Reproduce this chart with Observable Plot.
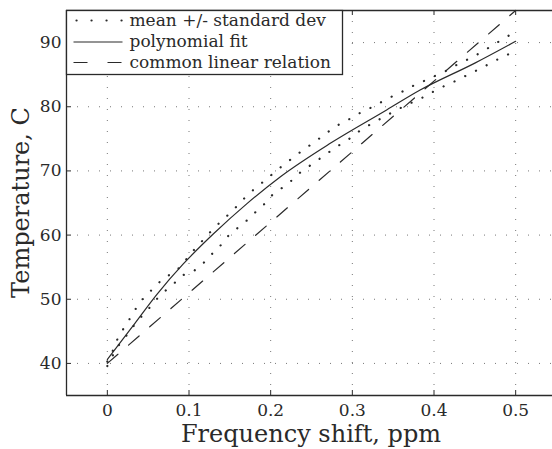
<!DOCTYPE html>
<html><head><meta charset="utf-8">
<script src="https://cdn.jsdelivr.net/npm/d3@7"></script>
<script src="https://cdn.jsdelivr.net/npm/@observablehq/plot@0.6"></script>
<style>
html,body{margin:0;padding:0;background:#fff;overflow:hidden}
#chart{width:552px;height:449px;overflow:hidden;background:#fff}
#chart svg{max-width:none !important}
</style></head><body><div id="chart"></div>
<script>
const xTicks = [0, 0.1, 0.2, 0.3, 0.4, 0.5];
const yTicks = [40, 50, 60, 70, 80, 90];
const xLabel = "Frequency shift, ppm";
const yLabel = "Temperature, C";
const seriesNames = ["mean +/- standard dev", "polynomial fit", "common linear relation"];

const upperX = [0.000, 0.005, 0.0098, 0.0151, 0.0233, 0.0302, 0.0383, 0.0473, 0.0588, 0.0681, 0.0812, 0.0922, 0.1004, 0.1106, 0.1212, 0.1314, 0.1424, 0.1534, 0.1636, 0.1746, 0.1860, 0.1975, 0.2085, 0.2207, 0.2326, 0.2448, 0.2570, 0.2693, 0.2819, 0.2954, 0.3089, 0.3219, 0.3350, 0.3485, 0.3619, 0.3750, 0.3892, 0.4166, 0.4300, 0.4435, 0.4565, 0.4696, 0.4823, 0.5000];
const upperY = [40.3, 41.4, 43.0, 44.6, 46.0, 47.6, 49.2, 50.7, 51.9, 53.3, 54.1, 55.4, 56.9, 58.3, 59.8, 61.2, 62.5, 63.8, 65.2, 66.6, 67.8, 69.0, 70.2, 71.4, 72.6, 73.7, 74.8, 76.0, 77.1, 78.0, 79.0, 79.8, 80.7, 81.6, 82.4, 83.3, 84.1, 85.7, 86.7, 87.5, 88.4, 89.4, 90.4, 91.7];

const lowerX = [0.000, 0.0119, 0.022, 0.030, 0.0396, 0.0486, 0.0588, 0.0689, 0.0804, 0.0914, 0.1049, 0.1167, 0.1269, 0.1375, 0.1465, 0.1575, 0.1693, 0.1799, 0.1913, 0.2016, 0.2134, 0.2256, 0.2366, 0.2489, 0.2611, 0.2733, 0.286, 0.2987, 0.3105, 0.324, 0.337, 0.3497, 0.3635, 0.377, 0.3905, 0.4035, 0.4174, 0.4312, 0.4443, 0.4582, 0.4716, 0.4851, 0.4994];
const lowerY = [39.6, 42.5, 44.1, 45.5, 47.0, 48.2, 49.8, 51.1, 52.3, 53.7, 54.3, 55.5, 56.9, 58.2, 59.7, 60.9, 62.1, 63.4, 64.7, 66.2, 67.3, 68.5, 69.8, 70.9, 72.0, 73.1, 74.2, 75.2, 76.4, 77.4, 78.3, 79.2, 80.1, 80.9, 81.7, 82.7, 83.5, 84.3, 85.2, 86.0, 87.0, 87.8, 88.7];

const fitX = [0, 0.03, 0.061, 0.093, 0.130, 0.171, 0.212, 0.273, 0.342, 0.383, 0.45, 0.5];
const fitY = [40.6, 45.6, 50.8, 55.5, 60.2, 64.9, 69.1, 74.3, 79.5, 82.6, 86.8, 90.2];

const linX = [0, 0.5];
const linY = [40, 95];

const xDomain = [-0.05, 0.55];
const yDomain = [35, 95];

const toPts = (xs, ys) => xs.map((x, i) => ({x, y: ys[i]}));
const upper = toPts(upperX, upperY);
const lower = toPts(lowerX, lowerY);
const fit = toPts(fitX, fitY);
const lin = toPts(linX, linY);

const W = 560, H = 449;
const mL = 66, mR = 4, mT = 10, mB = 54;
const fh = H - mT - mB, fw = W - mL - mR;
const ink = "#2a2a2a";
const font = "'DejaVu Serif', serif";
const tickFont = 17;
const dotStyle = {stroke: ink, strokeWidth: 2.2, strokeLinecap: "round", strokeDasharray: "0.1,11.9"};

const plot = Plot.plot({
  width: W, height: H,
  marginLeft: mL, marginRight: mR, marginTop: mT, marginBottom: mB,
  style: {fontFamily: font, fontSize: tickFont + "px", color: ink, background: "#fff", maxWidth: "none"},
  x: {domain: xDomain},
  y: {domain: yDomain},
  marks: [
    Plot.gridX(xTicks, {stroke: "#777", strokeOpacity: 1, strokeWidth: 1, strokeDasharray: "1,10"}),
    Plot.gridY(yTicks, {stroke: "#777", strokeOpacity: 1, strokeWidth: 1, strokeDasharray: "1,10"}),
    Plot.line(upper, {x: "x", y: "y", ...dotStyle}),
    Plot.line(lower, {x: "x", y: "y", ...dotStyle}),
    Plot.line(fit, {x: "x", y: "y", stroke: ink, strokeWidth: 1.2, curve: "monotone-x"}),
    Plot.line(lin, {x: "x", y: "y", stroke: ink, strokeWidth: 1.2, strokeDasharray: "14,14"}),
    Plot.tickX(xTicks, {x: d => d, stroke: ink, insetTop: fh - 5}),
    Plot.tickX(xTicks, {x: d => d, stroke: ink, insetBottom: fh - 5}),
    Plot.tickY(yTicks, {y: d => d, stroke: ink, insetRight: fw - 5}),
    Plot.axisX(xTicks, {tickSize: 0, tickPadding: 8, tickFormat: d => String(d), label: null, fontSize: tickFont}),
    Plot.axisY(yTicks, {tickSize: 0, tickPadding: 5, label: null, fontSize: tickFont}),
    Plot.ruleY(yDomain, {stroke: ink, strokeWidth: 1.3}),
    Plot.ruleX([xDomain[0]], {stroke: ink, strokeWidth: 1.3})
  ]
});
plot.style.maxWidth = "none";
document.getElementById("chart").appendChild(plot);

const sx = plot.scale("x"), sy = plot.scale("y");
const fx0 = sx.apply(xDomain[0]), fx1 = sx.apply(xDomain[1]), fy0 = sy.apply(yDomain[1]), fy1 = sy.apply(yDomain[0]);
const svg = d3.select(plot);

// axis labels
const lab = svg.append("g").attr("font-family", font).attr("font-size", 24).attr("fill", ink).attr("text-anchor", "middle");
lab.append("text").attr("x", (fx0 + fx1) / 2).attr("y", fy1 + 47).text(xLabel);
lab.append("text").attr("transform", `translate(${fx0 - 37},${(fy0 + fy1) / 2}) rotate(-90)`).text(yLabel);

// legend box in the top-left corner of the frame
const x0 = Math.round(fx0) + 0.5, y0 = Math.round(fy0) + 0.5;
const g = svg.append("g").attr("font-family", font).attr("font-size", 17).attr("fill", ink).attr("text-anchor", "start");
g.append("rect").attr("x", x0).attr("y", y0).attr("width", 276).attr("height", 64)
  .attr("fill", "#fff").attr("stroke", ink).attr("stroke-width", 1.3);
const rows = [y0 + 10, y0 + 31.5, y0 + 52];
g.append("line").attr("x1", x0 + 10).attr("x2", x0 + 56).attr("y1", rows[0]).attr("y2", rows[0])
  .attr("stroke", ink).attr("stroke-width", 2.2).attr("stroke-linecap", "round").attr("stroke-dasharray", "0.1,14.9");
g.append("line").attr("x1", x0 + 7).attr("x2", x0 + 56).attr("y1", rows[1]).attr("y2", rows[1])
  .attr("stroke", ink).attr("stroke-width", 1.2);
g.append("line").attr("x1", x0 + 7).attr("x2", x0 + 56).attr("y1", rows[2]).attr("y2", rows[2])
  .attr("stroke", ink).attr("stroke-width", 1.2).attr("stroke-dasharray", "14,20");
seriesNames.forEach((s, i) => {
  g.append("text").attr("x", x0 + 63).attr("y", rows[i]).attr("dy", "0.32em").text(s);
});
</script>
</body></html>
